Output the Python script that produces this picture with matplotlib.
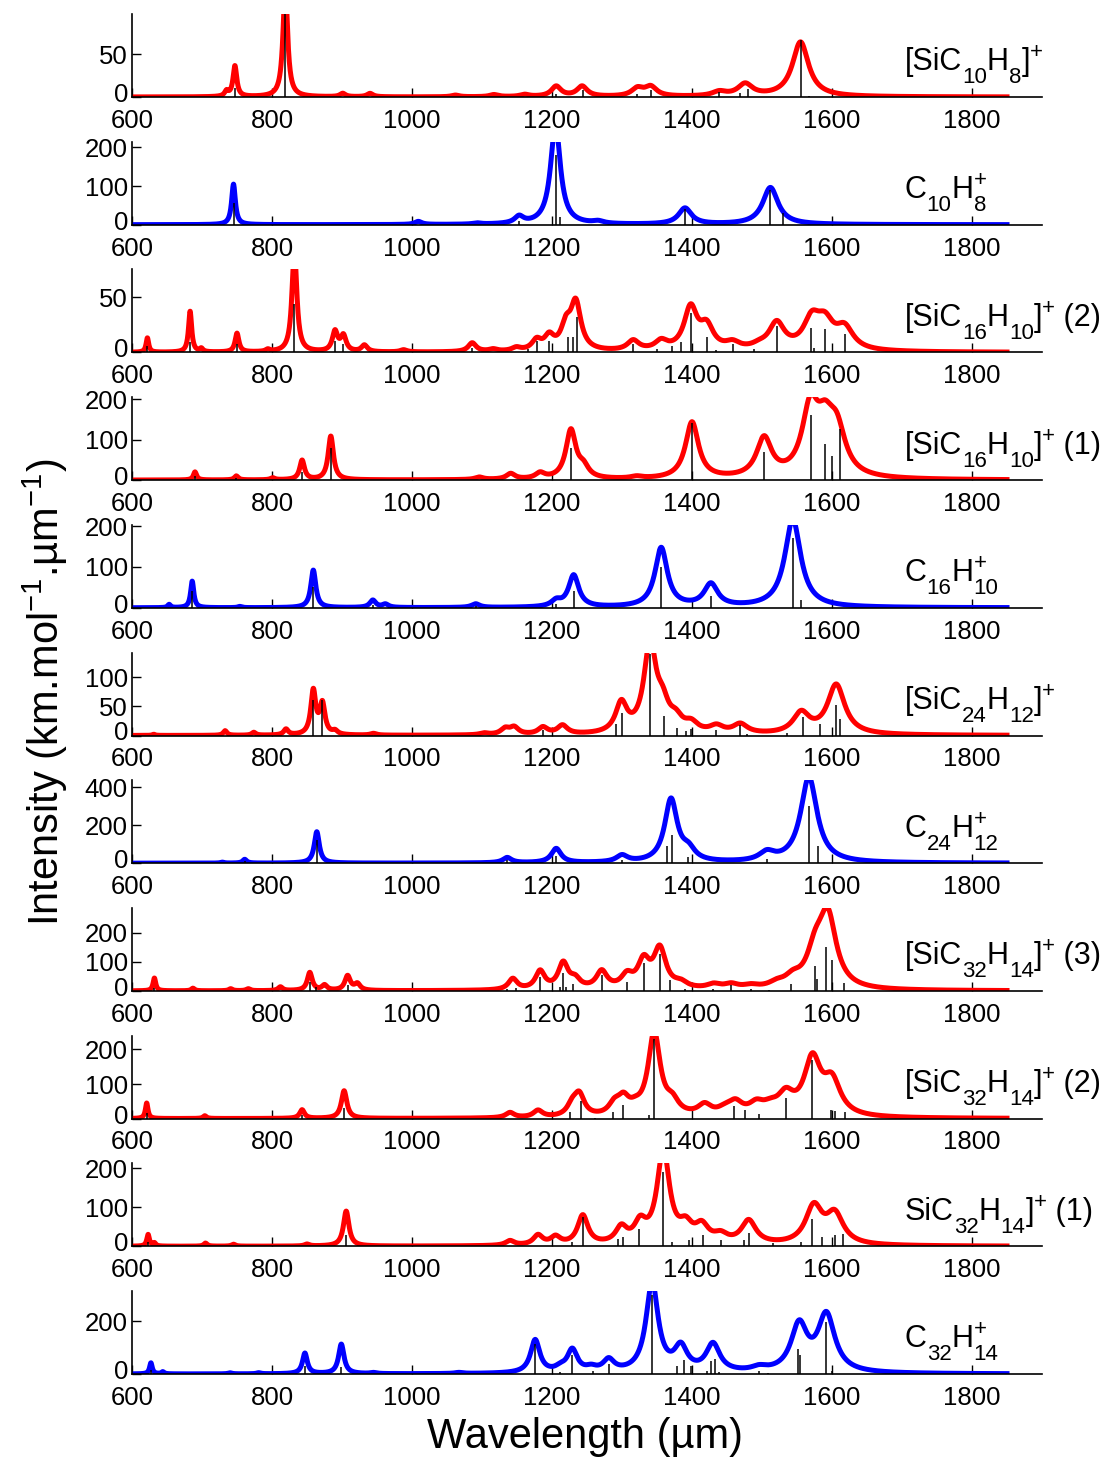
import numpy as np
import matplotlib
matplotlib.use('Agg')
import matplotlib.pyplot as plt

# 글꼴 설정 (Arial 대신 Liberation Sans)
plt.rcParams['font.family'] = ['Liberation Sans', 'DejaVu Sans']
plt.rcParams['mathtext.fontset'] = 'custom'
plt.rcParams['mathtext.rm'] = 'Liberation Sans'
plt.rcParams['mathtext.it'] = 'Liberation Sans:italic'

# 1. 데이터
# 분자 이름: (글자, 종류) n=보통, b=아래첨자, p=위첨자, bp=아래/위 겹침
labels = [
    [('[SiC', 'n'), ('10', 'b'), ('H', 'n'), ('8', 'b'), (']', 'n'), ('+', 'p')],
    [('C', 'n'), ('10', 'b'), ('H', 'n'), (('8', '+'), 'bp')],
    [('[SiC', 'n'), ('16', 'b'), ('H', 'n'), ('10', 'b'), (']', 'n'), ('+', 'p'), (' (2)', 'n')],
    [('[SiC', 'n'), ('16', 'b'), ('H', 'n'), ('10', 'b'), (']', 'n'), ('+', 'p'), (' (1)', 'n')],
    [('C', 'n'), ('16', 'b'), ('H', 'n'), (('10', '+'), 'bp')],
    [('[SiC', 'n'), ('24', 'b'), ('H', 'n'), ('12', 'b'), (']', 'n'), ('+', 'p')],
    [('C', 'n'), ('24', 'b'), ('H', 'n'), (('12', '+'), 'bp')],
    [('[SiC', 'n'), ('32', 'b'), ('H', 'n'), ('14', 'b'), (']', 'n'), ('+', 'p'), (' (3)', 'n')],
    [('[SiC', 'n'), ('32', 'b'), ('H', 'n'), ('14', 'b'), (']', 'n'), ('+', 'p'), (' (2)', 'n')],
    [('SiC', 'n'), ('32', 'b'), ('H', 'n'), ('14', 'b'), (']', 'n'), ('+', 'p'), (' (1)', 'n')],
    [('C', 'n'), ('32', 'b'), ('H', 'n'), (('14', '+'), 'bp')],
]
colors = ['red', 'blue', 'red', 'red', 'blue', 'red', 'blue', 'red', 'red', 'red', 'blue']
ymax = [97, 215, 75, 205, 203, 142, 436, 285, 240, 213, 314]
yticks = [[0, 50], [0, 100, 200], [0, 50], [0, 100, 200], [0, 100, 200], [0, 50, 100],
          [0, 200, 400], [0, 100, 200], [0, 100, 200], [0, 100, 200], [0, 200]]

# 밴드: 중심 위치, 높이 / 스틱: 위치, 세기
band_pos_1 = [735, 747, 819, 901, 940, 1062, 1117, 1161, 1206, 1243, 1322, 1341, 1439, 1476, 1555]
band_amp_1 = [6, 36, 130, 4, 4, 2, 2.5, 2.5, 12, 12, 9, 11, 5, 14, 64]
stick_pos_1 = [747, 819, 1205, 1244, 1322, 1342, 1439, 1469, 1480, 1555, 1567]
stick_amp_1 = [11, 120, 4, 8, 4, 8, 6, 5, 9, 67, 1.5]

band_pos_2 = [745, 1009, 1093, 1153, 1205, 1266, 1390, 1512]
band_amp_2 = [105, 8, 3, 18, 260, 6, 42, 96]
stick_pos_2 = [745, 1153, 1205, 1212, 1390, 1512, 1530]
stick_amp_2 = [55, 10, 180, 20, 40, 90, 30]

band_pos_3 = [622, 683, 699, 750, 794, 832, 890, 902, 932, 988, 1086, 1116, 1149, 1178, 1196,
              1220, 1234, 1316, 1356, 1398, 1421, 1458, 1496, 1521, 1571, 1590, 1618]
band_amp_3 = [13, 37, 3, 17, 2, 95, 18, 14, 6, 2, 8, 2, 3, 9, 12,
              20, 42, 9, 8, 38, 20, 6, 3, 24, 25.5, 22, 19]
stick_pos_3 = [622, 683, 750, 832, 890, 902, 1086, 1166, 1178, 1196, 1223, 1230, 1236, 1316,
               1350, 1372, 1385, 1398, 1422, 1435, 1458, 1489, 1521, 1570, 1574, 1590, 1618]
stick_amp_3 = [6, 9, 8, 44, 10, 8, 4, 3, 10, 10, 14, 14, 32, 8,
               3, 6, 9, 36, 14, 2, 8, 3, 24, 22, 4, 21, 17]

band_pos_4 = [690, 749, 801, 843, 884, 1096, 1141, 1183, 1227, 1245, 1321, 1400, 1503, 1569, 1590, 1607]
band_amp_4 = [20, 10, 5, 48, 108, 6, 14, 14, 120, 25, 5, 140, 96, 160, 100, 103]
stick_pos_4 = [690, 749, 843, 884, 1227, 1400, 1503, 1570, 1590, 1600, 1612]
stick_amp_4 = [10, 5, 20, 80, 80, 140, 70, 160, 90, 60, 125]

band_pos_5 = [653, 686, 754, 859, 944, 962, 1091, 1206, 1231, 1356, 1427, 1544]
band_amp_5 = [8, 65, 3, 92, 18, 8, 9, 14, 78, 145, 55, 215]
stick_pos_5 = [686, 859, 944, 1091, 1206, 1231, 1356, 1427, 1544, 1556]
stick_amp_5 = [40, 50, 8, 5, 10, 40, 100, 30, 170, 20]

band_pos_6 = [631, 733, 774, 820, 859, 872, 890, 945, 1103, 1133, 1146, 1187, 1215, 1299,
              1340, 1358, 1377, 1399, 1435, 1469, 1556, 1606]
band_amp_6 = [2, 8, 5, 10, 75, 52, 6, 3, 3, 10, 12, 12, 15, 50,
              150, 40, 20, 15, 12, 16, 35, 85]
stick_pos_6 = [859, 872, 1187, 1291, 1300, 1340, 1360, 1378, 1392, 1399, 1435, 1468, 1479,
               1535, 1558, 1583, 1606, 1611]
stick_amp_6 = [60, 60, 10, 20, 38, 140, 33, 13, 8, 11, 10, 18, 2, 5, 32, 20, 52, 28]

band_pos_7 = [729, 761, 864, 1136, 1206, 1300, 1370, 1395, 1507, 1567]
band_amp_7 = [5, 20, 165, 28, 75, 35, 330, 55, 45, 450]
stick_pos_7 = [761, 864, 1136, 1206, 1300, 1365, 1372, 1395, 1507, 1567, 1580]
stick_amp_7 = [10, 120, 15, 40, 15, 90, 150, 30, 20, 300, 90]

band_pos_8 = [632, 687, 741, 766, 812, 854, 875, 908, 922, 1144, 1183, 1216, 1233, 1271, 1307,
              1331, 1354, 1384, 1431, 1456, 1484, 1521, 1544, 1576, 1594]
band_amp_8 = [44, 9, 7, 7, 13, 62, 18, 50, 22, 38, 62, 88, 30, 60, 42,
              90, 135, 18, 15, 15, 10, 15, 30, 110, 240]
stick_pos_8 = [632, 854, 863, 908, 1136, 1149, 1183, 1211, 1216, 1220, 1230, 1271, 1307, 1331,
               1354, 1368, 1390, 1430, 1456, 1484, 1510, 1542, 1575, 1579, 1592, 1600, 1617]
stick_amp_8 = [10, 30, 12, 20, 5, 10, 48, 15, 60, 12, 22, 56, 30, 95,
               125, 38, 8, 6, 20, 5, 3, 22, 85, 40, 150, 105, 27]

band_pos_9 = [621, 704, 843, 903, 1140, 1180, 1229, 1239, 1289, 1302, 1319, 1346, 1372, 1418,
              1447, 1462, 1492, 1512, 1534, 1572, 1600]
band_amp_9 = [45, 8, 25, 80, 15, 20, 30, 60, 30, 45, 15, 240, 35, 30, 15, 35, 30, 20, 55, 160, 95]
stick_pos_9 = [621, 843, 903, 1226, 1241, 1261, 1287, 1302, 1338, 1346, 1460, 1476, 1496,
               1534, 1571, 1599, 1604, 1618]
stick_amp_9 = [15, 10, 30, 20, 52, 3, 20, 40, 10, 230, 35, 25, 12, 60, 170, 25, 22, 18]

band_pos_10 = [623, 632, 705, 745, 850, 906, 1140, 1180, 1205, 1244, 1299, 1326, 1359, 1391,
               1414, 1441, 1481, 1574, 1604]
band_amp_10 = [30, 8, 8, 5, 5, 90, 12, 25, 20, 75, 40, 48, 240, 40, 42, 20, 60, 95, 75]
stick_pos_10 = [623, 906, 1229, 1244, 1294, 1301, 1325, 1359, 1371, 1396, 1416, 1441, 1474,
                1481, 1516, 1556, 1572, 1586, 1604, 1616]
stick_amp_10 = [10, 30, 10, 75, 20, 25, 45, 190, 10, 15, 30, 15, 15, 35, 8, 12, 70, 25, 30, 32]

band_pos_11 = [627, 644, 740, 781, 847, 899, 945, 1067, 1176, 1212, 1229, 1256, 1281, 1343,
               1384, 1430, 1496, 1553, 1592]
band_amp_11 = [42, 8, 4, 4, 78, 112, 4, 4, 125, 15, 85, 15, 45, 340, 90, 105, 15, 175, 215]
stick_pos_11 = [627, 847, 899, 1176, 1212, 1229, 1258, 1281, 1343, 1379, 1388, 1399, 1422,
                1427, 1433, 1439, 1496, 1509, 1552, 1554, 1592, 1600]
stick_amp_11 = [15, 30, 25, 115, 8, 70, 12, 38, 300, 30, 52, 30, 12, 50, 55, 8, 10, 4, 95, 70, 195, 10]

band_pos = [band_pos_1, band_pos_2, band_pos_3, band_pos_4, band_pos_5, band_pos_6,
            band_pos_7, band_pos_8, band_pos_9, band_pos_10, band_pos_11]
band_amp = [band_amp_1, band_amp_2, band_amp_3, band_amp_4, band_amp_5, band_amp_6,
            band_amp_7, band_amp_8, band_amp_9, band_amp_10, band_amp_11]
stick_pos = [stick_pos_1, stick_pos_2, stick_pos_3, stick_pos_4, stick_pos_5, stick_pos_6,
             stick_pos_7, stick_pos_8, stick_pos_9, stick_pos_10, stick_pos_11]
stick_amp = [stick_amp_1, stick_amp_2, stick_amp_3, stick_amp_4, stick_amp_5, stick_amp_6,
             stick_amp_7, stick_amp_8, stick_amp_9, stick_amp_10, stick_amp_11]

# 로렌츠 선폭 (파장^2 에 비례)
WIDTH_K = 1.16e-5


def broaden(x, pos, amp):
    """밴드 목록을 로렌츠 선형으로 합쳐 스펙트럼을 만든다."""
    y = np.zeros_like(x)
    for c, a in zip(pos, amp):
        hw = 0.5 * WIDTH_K * c ** 2
        y += a / (1 + ((x - c) / hw) ** 2)
    return y


def draw_formula(ax, renderer, x0, yfrac, parts, size=22, small=16, drop=13, rise=12):
    """MATLAB 식 화학식 라벨: 조각마다 글자를 이어 붙인다."""
    dx = 0.0
    kw = dict(xy=(x0, yfrac), xycoords=('data', 'axes fraction'),
              textcoords='offset pixels', ha='left', va='baseline')
    for text, kind in parts:
        if kind == 'bp':
            t1 = ax.annotate(text[0], xytext=(dx, -drop), fontsize=small, **kw)
            t2 = ax.annotate(text[1], xytext=(dx, rise), fontsize=small, **kw)
            dx += max(t1.get_window_extent(renderer).width, t2.get_window_extent(renderer).width)
            continue
        dy = {'n': 0, 'b': -drop, 'p': rise}[kind]
        fs = size if kind == 'n' else small
        t = ax.annotate(text, xytext=(dx, dy), fontsize=fs, **kw)
        dx += t.get_window_extent(renderer).width


# 2. 그림 그리기
fig = plt.figure(figsize=(11.09, 14.58), dpi=100)
renderer = fig.canvas.get_renderer()
W, H = 1109.0, 1458.0
x = np.linspace(600, 1850, 4000)

for i in range(11):
    base_px = 97 + 127.7 * i
    ax = fig.add_axes([132 / W, 1 - base_px / H, 910 / W, 83 / H])
    ax.plot(x, broaden(x, band_pos[i], band_amp[i]), color=colors[i], lw=3.6)
    ax.vlines(stick_pos[i], 0, stick_amp[i], color='black', lw=1.1)

    ax.set_xlim(600, 1900)
    ax.set_ylim(0, ymax[i])
    ax.set_xticks(range(600, 1801, 200))
    ax.set_yticks(yticks[i])
    # 0 눈금 라벨은 x 눈금 라벨과 겹치지 않게 조금 위에 따로 쓴다
    ax.set_yticklabels([''] + [str(t) for t in yticks[i][1:]])
    ax.annotate('0', xy=(0, 0), xycoords=('axes fraction', 'data'),
                xytext=(-4, 2), textcoords='offset pixels',
                ha='right', va='center', fontsize=18.5)
    ax.spines['top'].set_visible(False)
    ax.spines['right'].set_visible(False)
    for s in ['left', 'bottom']:
        ax.spines[s].set_linewidth(1.2)
    ax.tick_params(direction='in', length=6.5, width=1, labelsize=18.5)
    ax.tick_params(axis='x', pad=8.5)
    ax.tick_params(axis='y', pad=3)

    draw_formula(ax, renderer, 1704, 0.32, labels[i])

fig.text(45 / W, 1 - 692 / H, r'Intensity (km.mol$^{-1}$.µm$^{-1}$)',
         rotation=90, ha='center', va='center', fontsize=30)
fig.text(585 / W, 1 - 1437 / H, 'Wavelength (µm)', ha='center', va='center', fontsize=30)

fig.savefig('out.png', dpi=100)
